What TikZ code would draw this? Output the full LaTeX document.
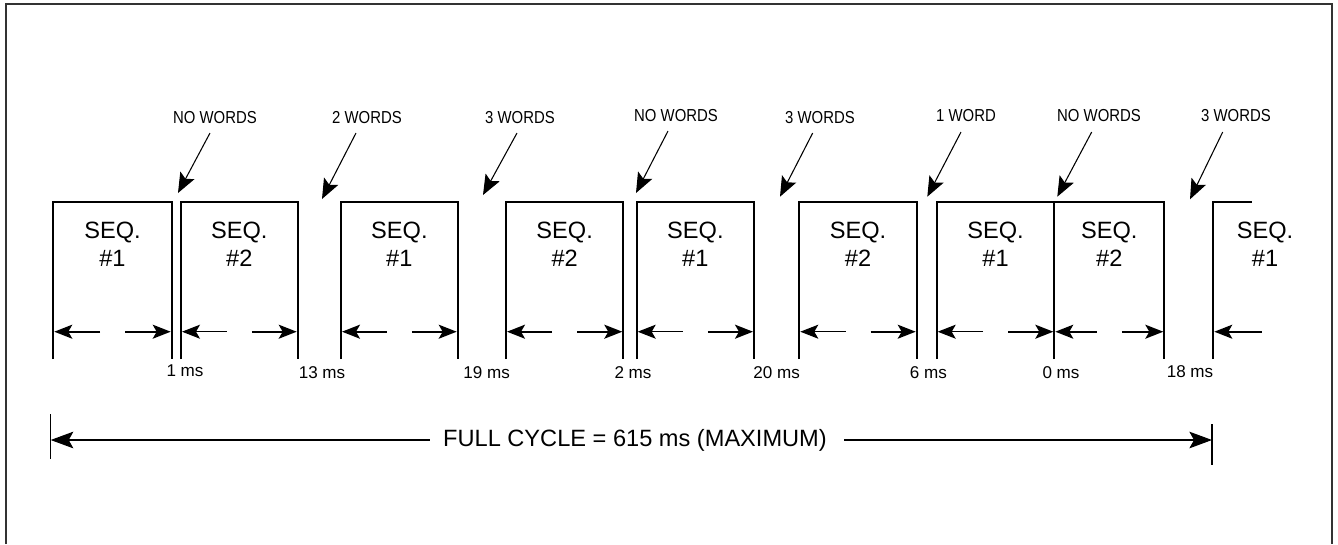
\documentclass[tikz,border=0pt]{standalone}
\usepackage{fontspec}
\setmainfont{Liberation Sans}
\newfontfamily\narrowf[FakeStretch=0.86]{Liberation Sans}
\usetikzlibrary{arrows.meta}
\tikzset{
  frameline/.style={line width=0.9pt, black!80},
  boxline/.style={line width=1.6pt, line join=miter, line cap=butt},
  seqtext/.style={align=center, inner sep=0pt, font=\fontsize{17.7}{21}\selectfont},
  boxarrow/.style={line width=1.3pt, -{Stealth[length=13.5pt, width=10.5pt, inset=3pt]}},
  thinarrow/.style={line width=0.8pt, -{Stealth[length=13.5pt, width=10.5pt, inset=3pt]}},
  wordlabel/.style={inner sep=0pt, font=\narrowf\fontsize{13}{15}\selectfont},
  ptrarrow/.style={line width=0.8pt, -{Stealth[length=15pt, width=12pt, inset=3pt]}},
  mslabel/.style={inner sep=0pt, font=\fontsize{12.8}{15}\selectfont},
  cyclearrow/.style={line width=0.8pt, -{Stealth[length=17pt, width=12.5pt, inset=3.5pt]}},
  cyclebar/.style={line width=0.8pt},
  cycletext/.style={inner sep=0pt, font=\fontsize{17.7}{21}\selectfont}
}
\begin{document}
\begin{tikzpicture}[x=0.75pt, y=-0.75pt]
\useasboundingbox (0,0) rectangle (1338,544);
% outer frame (open at bottom)
\draw[frameline] (6,544) -- (6,4) -- (1332,4) -- (1332,544);

% sequence boxes
\foreach \l/\r/\n/\i/\st in {53.3/171.7/1/1/boxarrow, 181/297.7/2/2/thinarrow, 341/457.7/1/3/boxarrow,
  506/623.3/2/4/boxarrow, 636.7/754/1/5/thinarrow, 799.3/916.7/2/6/thinarrow,
  936.7/1054.3/1/7/thinarrow, 1054.3/1164.3/2/8/boxarrow} {
  \draw[boxline] (\l,359) -- (\l,202) -- (\r,202) -- (\r,359);
  \node[seqtext] (seq\i) at ({(\l+\r)/2},244) {SEQ.\\\#\n};
  \coordinate (la\i) at ({(\l+\r)/2-12.5},331.7);
  \coordinate (lt\i) at ({\l+1},331.7);
  \coordinate (ra\i) at ({(\l+\r)/2+12.5},331.7);
  \coordinate (rt\i) at ({\r-1},331.7);
  \draw[\st] (la\i) -- (lt\i);
  \draw[boxarrow] (ra\i) -- (rt\i);
}
% partial last box
\draw[boxline] (1213.3,359) -- (1213.3,202) -- (1251.7,202);
\node[seqtext] (seq9) at (1265,244) {SEQ.\\\#1};
\coordinate (la9) at (1261.7,331.7);
\coordinate (lt9) at (1214.3,331.7);
\draw[boxarrow] (la9) -- (lt9);

% word labels with pointer arrows
\foreach \i/\x/\y/\sx/\sy/\tx/\ty/\txt in {
  1/215/118/210/133/178/193/NO WORDS,
  2/367/118/356/133/322/199/2 WORDS,
  3/520/118/517/133/483/195/3 WORDS,
  4/676/116/668/131/636/193/NO WORDS,
  5/820/118/812.7/133/780/196.7/3 WORDS,
  6/966/116/961/132/927.3/196.7/1 WORD,
  7/1099/116/1091.7/132/1057.3/196.7/NO WORDS,
  8/1236/116/1222.7/132/1190/199.3/3 WORDS} {
  \node[wordlabel] (w\i) at (\x,\y) {\txt};
  \coordinate (ws\i) at (\sx,\sy);
  \coordinate (wt\i) at (\tx,\ty);
  \draw[ptrarrow] (ws\i) -- (wt\i);
}

% gap durations
\foreach \i/\x/\y/\txt in {1/185/371/1 ms, 2/322/373/13 ms, 3/486.7/373/19 ms, 4/633/373/2 ms,
  5/776.7/373/20 ms, 6/928.3/373/6 ms, 7/1061/373/0 ms, 8/1190/372/18 ms} {
  \node[mslabel] (ms\i) at (\x,\y) {\txt};
}

% full cycle dimension
\coordinate (fl) at (50.7,440);
\coordinate (fr) at (1212,440);
\draw[cyclebar] (50.7,414) -- (50.7,459);
\draw[cyclebar] (1212,424) -- (1212,465);
\node[cycletext] (fc) at (635,440) {FULL CYCLE = 615 ms (MAXIMUM)};
\draw[cyclearrow] ([xshift=-10pt]fc.west) -- (fl);
\draw[cyclearrow] ([xshift=13pt]fc.east) -- (fr);
\end{tikzpicture}
\end{document}
